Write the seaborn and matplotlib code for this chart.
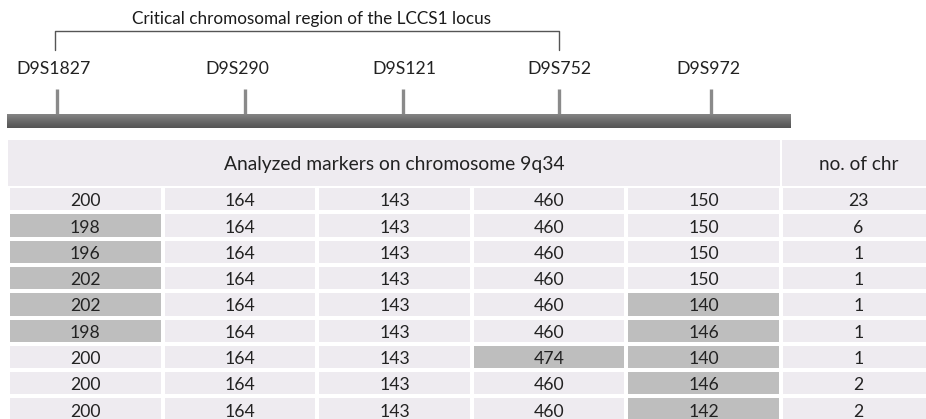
import numpy as np
import pandas as pd
import seaborn as sns
import matplotlib.pyplot as plt
from matplotlib.colors import ListedColormap, LinearSegmentedColormap
from matplotlib.patches import Rectangle

sns.set_theme(style="white")
plt.rcParams["font.family"] = ["Lato", "DejaVu Sans"]

# Data
markers = ["D9S1827", "D9S290", "D9S121", "D9S752", "D9S972"]
d9s1827 = [200, 198, 196, 202, 202, 198, 200, 200, 200]
d9s290 = [164, 164, 164, 164, 164, 164, 164, 164, 164]
d9s121 = [143, 143, 143, 143, 143, 143, 143, 143, 143]
d9s752 = [460, 460, 460, 460, 460, 460, 474, 460, 460]
d9s972 = [150, 150, 150, 150, 140, 146, 140, 146, 142]
no_of_chr = [23, 6, 1, 1, 1, 1, 1, 2, 2]
# cells that differ from the common haplotype (shown shaded)
reference_haplotype = [200, 164, 143, 460, 150]

title = "Critical chromosomal region of the LCCS1 locus"
header = "Analyzed markers on chromosome 9q34"
count_header = "no. of chr"

# marker positions along the drawn chromosome (pixels)
marker_x = [57, 245, 403, 559, 711]
label_x = [54, 237, 404, 559, 708]

W, H = 926, 419
LIGHT = "#EEEBF0"
SHADE = "#BEBEBE"
TEXT = "#222222"

values = pd.DataFrame({
    "D9S1827": d9s1827, "D9S290": d9s290, "D9S121": d9s121,
    "D9S752": d9s752, "D9S972": d9s972, "chr": no_of_chr,
})
shade = pd.DataFrame({m: [int(v != r) for v in values[m]]
                      for m, r in zip(markers, reference_haplotype)})
shade["chr"] = 0

fig = plt.figure(figsize=(W / 100, H / 100), dpi=100)

# top diagram in pixel coordinates
ax0 = fig.add_axes([0, 0, 1, 1])
ax0.axis("off")

ax0.text(312, 19, title, ha="center", va="center", fontsize=12.3,
         color="#1a1a1a")
ax0.plot([55, 55, 559, 559], [50, 31, 31, 50], color="#555555", lw=1)

for x, lx, name in zip(marker_x, label_x, markers):
    ax0.text(lx, 69, name, ha="center", va="center", fontsize=12.7,
             color=TEXT)
    ax0.plot([x, x], [89, 115], color="#8a8a8a", lw=2.4,
             solid_capstyle="butt")

grad = LinearSegmentedColormap.from_list("bar", ["#848484", "#6a6a6a", "#555555"])
ax0.imshow(np.linspace(0, 1, 20).reshape(-1, 1), cmap=grad, aspect="auto",
           extent=[7, 791, 128, 114], zorder=3)
ax0.set_xlim(0, W)
ax0.set_ylim(H, 0)

# table geometry (pixels)
col_w = 154.6
left = 8
row_h = 26.3
head_top, head_bot = 140, 186
n_rows = len(no_of_chr)
tab_w = col_w * 6

# header row
axh = fig.add_axes([left / W, (H - head_bot) / H, tab_w / W, (head_bot - head_top) / H])
axh.set_xlim(0, 6)
axh.set_ylim(0, 1)
axh.axis("off")
axh.add_patch(Rectangle((0, 0), 6, 1, facecolor=LIGHT, edgecolor="none"))
axh.plot([5, 5], [0, 1], color="white", lw=1.5)
axh.text(2.5, 0.47, header, ha="center", va="center", fontsize=13.9, color=TEXT)
axh.text(5.5, 0.47, count_header, ha="center", va="center", fontsize=13.7, color=TEXT)

# body rows as a heatmap
tab_h = row_h * n_rows
axt = fig.add_axes([left / W, (H - head_bot - tab_h) / H, tab_w / W, tab_h / H])
sns.heatmap(shade, annot=values.astype(str).values, fmt="",
            cmap=ListedColormap([LIGHT, SHADE]), vmin=0, vmax=1, cbar=False,
            linewidths=1.6, linecolor="white", xticklabels=False,
            yticklabels=False, annot_kws={"size": 12.7, "color": TEXT},
            ax=axt)
# numbers sit a little low in their cells
for t in axt.texts:
    x, y = t.get_position()
    t.set_position((x, y + 0.08))

fig.savefig("out.png", dpi=100)
